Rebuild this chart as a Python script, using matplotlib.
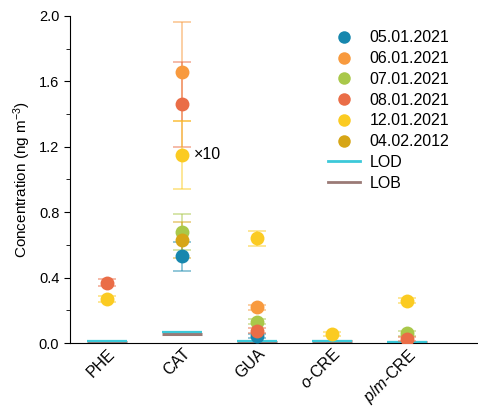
import numpy as np
import matplotlib
matplotlib.use("Agg")
import matplotlib.pyplot as plt
from matplotlib.lines import Line2D

plt.rcParams['font.family'] = ['Liberation Sans', 'DejaVu Sans']
plt.rcParams['mathtext.fontset'] = 'custom'
plt.rcParams['mathtext.rm'] = 'Liberation Sans'
plt.rcParams['mathtext.it'] = 'Liberation Sans:italic'

categories = ["PHE", "CAT", "GUA", "$o$-CRE", "$p$/$m$-CRE"]
dates = ["05.01.2021", "06.01.2021", "07.01.2021", "08.01.2021", "12.01.2021", "04.02.2012"]
colors = ["#1787AE", "#F89A3E", "#A9C84A", "#EA6D47", "#FBCB22", "#D6A516"]

nan = np.nan
values = {
    "05.01.2021": [nan, 0.53, 0.045, nan, nan],
    "06.01.2021": [nan, 1.66, 0.22, nan, nan],
    "07.01.2021": [nan, 0.68, 0.13, nan, 0.06],
    "08.01.2021": [0.37, 1.46, 0.075, nan, 0.025],
    "12.01.2021": [0.27, 1.15, 0.64, 0.055, 0.26],
    "04.02.2012": [nan, 0.63, nan, nan, nan],
}
errors = {
    "05.01.2021": [nan, 0.09, 0.012, nan, nan],
    "06.01.2021": [nan, 0.30, 0.015, nan, nan],
    "07.01.2021": [nan, 0.11, 0.015, nan, 0.015],
    "08.01.2021": [0.02, 0.26, 0.015, nan, 0.01],
    "12.01.2021": [0.02, 0.21, 0.045, 0.01, 0.015],
    "04.02.2012": [nan, 0.11, nan, nan, nan],
}
lod = [0.012, 0.065, 0.012, 0.012, 0.006]
lob = [0.006, 0.055, 0.006, 0.010, 0.004]

fig = plt.figure(figsize=(4.78, 4.07), dpi=100)
ax = fig.add_axes([0.146, 0.157, 0.854, 0.804])

x = np.arange(len(categories))
half = 0.27
for i in x:
    ax.plot([i - half, i + half], [lob[i], lob[i]], color="#9A7A76", lw=2.2, solid_capstyle="butt", zorder=2)
    ax.plot([i - half, i + half], [lod[i], lod[i]], color="#3CC9D9", lw=1.6, solid_capstyle="butt", zorder=2)

for d, c in zip(dates, colors):
    v = np.array(values[d])
    e = np.array(errors[d])
    m = ~np.isnan(v)
    ax.errorbar(x[m], v[m], yerr=e[m], fmt="none", ecolor=c, alpha=0.55,
                elinewidth=1.2, capsize=6.5, capthick=1.2, zorder=3)
    ax.plot(x[m], v[m], "o", color=c, markersize=10, markeredgewidth=0, zorder=4)

ax.text(x[1] + 0.16, values["12.01.2021"][1], "×10", fontsize=11.5, va="center", ha="left")

ax.set_xlim(-0.5, 4.95)
ax.set_ylim(0, 2.0)
ax.set_yticks(np.arange(0, 2.01, 0.4))
ax.set_yticks(np.arange(0.2, 2.0, 0.4), minor=True)
ax.set_yticklabels([f"{t:.1f}" for t in np.arange(0, 2.01, 0.4)])
ax.set_xticks(x)
ax.set_xticklabels(categories, rotation=45, ha="right", va="top", rotation_mode="anchor", fontsize=11.5)
ax.tick_params(axis="y", which="major", direction="out", length=4, labelsize=10.5)
ax.tick_params(axis="y", which="minor", direction="out", length=3)
ax.tick_params(axis="x", which="major", length=0, pad=2)
ax.spines["top"].set_visible(False)
ax.spines["right"].set_visible(False)
ax.set_ylabel("Concentration (ng m$^{-3}$)", fontsize=11)

handles = [Line2D([], [], marker="o", ls="none", color=c, markersize=9, markeredgewidth=0) for c in colors]
handles += [Line2D([], [], color="#3CC9D9", lw=2), Line2D([], [], color="#9A7A76", lw=2)]
labels = dates + ["LOD", "LOB"]
fig.legend(handles, labels, loc="upper left", bbox_to_anchor=(0.67, 0.945), frameon=False,
           fontsize=11.5, handlelength=2.0, handletextpad=0.6, labelspacing=0.36, borderpad=0)

fig.savefig("out.png", dpi=100)
